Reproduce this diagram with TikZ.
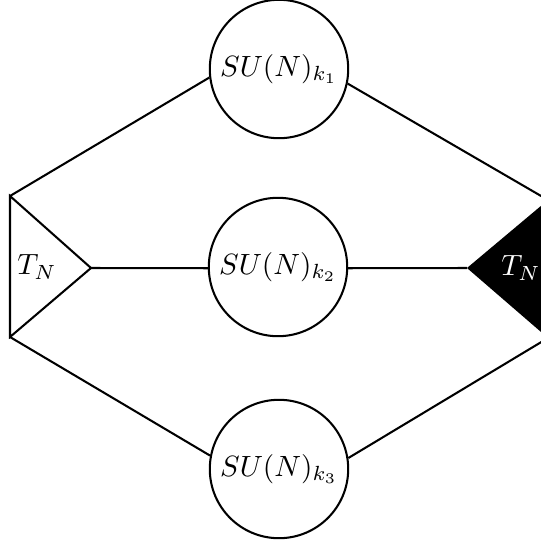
\documentclass[tikz,border=0pt]{standalone}
\usepackage{amsmath}
\usetikzlibrary{positioning}

\tikzset{
  gauge/.style={circle, draw, line width=0.7pt, minimum size=1.66cm, inner sep=0pt},
  edge/.style={draw, line width=0.7pt},
}

\begin{document}
\begin{tikzpicture}[x=0.012cm, y=-0.012cm]
\useasboundingbox (0,0) rectangle (541,543);
\clip (0,0) rectangle (541,543);
% triangle corners (left white, right black)
\coordinate (lt) at (10,196);
\coordinate (lb) at (10,337);
\coordinate (lr) at (91,268);
\coordinate (rt) at (548,200);
\coordinate (rb) at (548,338);
\coordinate (rl) at (467,268);
\draw[line width=0.7pt] (lt) -- (lb) -- (lr) -- cycle;
\fill[black] (rt) -- (rb) -- (rl) -- cycle;
\node (tl) at (37,267) {$T_N$};
\node[text=white] (tr) at (521,268) {$T_N$};
% gauge nodes
\node[gauge] (c1) at (279,69) {$SU(N)_{k_1}$};
\node[gauge] (c2) at (278,267) {$SU(N)_{k_2}$};
\node[gauge] (c3) at (279,469) {$SU(N)_{k_3}$};
% connectors
\draw[edge] (lt) -- (c1.187);
\draw[edge] (c1.348) -- (rt);
\draw[edge] (lr) -- (c2.181);
\draw[edge] (c2.359) -- (rl);
\draw[edge] (lb) -- (c3.169);
\draw[edge] (c3.9) -- (rb);
\end{tikzpicture}
\end{document}
